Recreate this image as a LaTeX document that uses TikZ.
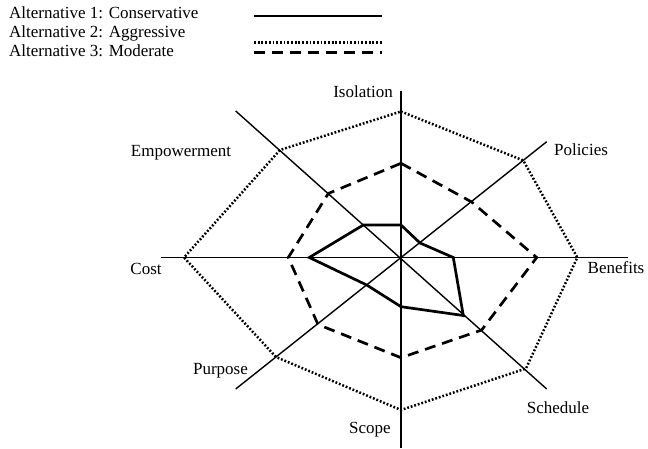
\documentclass[tikz,border=0pt]{standalone}
\usepackage{fontspec}
\setmainfont{Liberation Serif}
\begin{document}
\begin{tikzpicture}[x=1pt,y=-1pt,
  lbl/.style={inner sep=0pt,anchor=base,font=\fontsize{17}{19}\selectfont},
  leg/.style={inner sep=0pt,anchor=base west,font=\fontsize{17}{19}\selectfont},
  axis/.style={line width=1.4pt,black},
  conserv/.style={line width=2.7pt,line join=miter},
  aggress/.style={line width=2.5pt,dash pattern=on 1.8pt off 1.9pt},
  moder/.style={line width=2.7pt,dash pattern=on 11pt off 7pt}]
\useasboundingbox (0,0) rectangle (648,449);
% legend
\node[leg] (l1) at (9,19) {Alternative 1: Conservative};
\node[leg] (l2) at (9,37.7) {Alternative 2: Aggressive};
\node[leg] (l3) at (9,56.4) {Alternative 3: Moderate};
\coordinate (s1a) at (254,16); \coordinate (s1b) at (382,16);
\coordinate (s2a) at (254,42.5); \coordinate (s2b) at (382,42.5);
\coordinate (s3a) at (254,52.5); \coordinate (s3b) at (382,52.5);
\draw[conserv] (s1a) -- (s1b);
\draw[aggress] (s2a) -- (s2b);
\draw[moder] (s3a) -- (s3b);
% axes
\coordinate (c) at (401,257.5);
\coordinate (aN) at (401,91); \coordinate (aS) at (401,448);
\coordinate (aW) at (161,257.5); \coordinate (aE) at (628,257.5);
\coordinate (aNW) at (235.7,111); \coordinate (aSE) at (546.7,389);
\coordinate (aNE) at (546.7,141.7); \coordinate (aSW) at (235.7,389);
\draw[axis] (aN) -- (aS);
\draw[axis] (aW) -- (aE);
\draw[axis] (aNW) -- (aSE);
\draw[axis] (aNE) -- (aSW);
% labels
\node[lbl] (isol) at (363,98) {Isolation};
\node[lbl] (emp) at (181,156.5) {Empowerment};
\node[lbl] (cost) at (146,274) {Cost};
\node[lbl] (pol) at (581,156) {Policies};
\node[lbl] (ben) at (616,273.5) {Benefits};
\node[lbl] (purp) at (220.5,374) {Purpose};
\node[lbl] (sched) at (558,413.5) {Schedule};
\node[lbl] (scope) at (370,433.5) {Scope};
% aggressive (dotted)
\coordinate (gT) at (401,111.5); \coordinate (gNE) at (523.3,160.5);
\coordinate (gE) at (577.3,257.5); \coordinate (gSE) at (526,368.5);
\coordinate (gS) at (401,410); \coordinate (gSW) at (276,357);
\coordinate (gW) at (184,257.5); \coordinate (gNW) at (280,150);
\draw[aggress] (gT) -- (gNE) -- (gE) -- (gSE) -- (gS) -- (gSW) -- (gW) -- (gNW) -- cycle;
% moderate (dashed)
\coordinate (mT) at (401,163.3); \coordinate (mNE) at (471.7,202);
\coordinate (mE) at (536.7,257.5); \coordinate (mSE) at (481.7,330);
\coordinate (mS) at (401,357.7); \coordinate (mSW) at (318,324.5);
\coordinate (mW) at (288.3,257.5); \coordinate (mNW) at (328.3,193.5);
\draw[moder] (mT) -- (mNE) -- (mE) -- (mSE) -- (mS) -- (mSW) -- (mW) -- (mNW) -- cycle;
% conservative (solid)
\coordinate (cT) at (401,225); \coordinate (cNE) at (420,243);
\coordinate (cE) at (453.3,257.5); \coordinate (cSE) at (463.3,315.5);
\coordinate (cS) at (401,306.7); \coordinate (cSW) at (366.7,285);
\coordinate (cW) at (309.3,257.5); \coordinate (cNW) at (363.3,225);
\draw[conserv] (cT) -- (cNE) -- (cE) -- (cSE) -- (cS) -- (cSW) -- (cW) -- (cNW) -- cycle;
\end{tikzpicture}
\end{document}
